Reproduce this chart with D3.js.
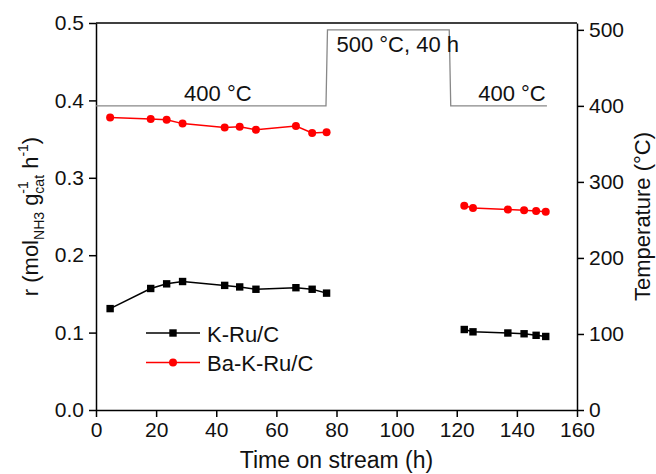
<!DOCTYPE html>
<meta charset="utf-8">
<script src="https://d3js.org/d3.v7.min.js"></script>
<style>
  body { margin: 0; background: #fff; }
  text { font-family: "Liberation Sans", Arial, sans-serif; fill: #111; }
</style>
<body>
<div id="chart"></div>
<script>
// data
var timeA = [4.7, 18.2, 23.5, 28.8, 42.8, 47.8, 53.2, 66.5, 71.9, 76.7];
var timeB = [122.5, 125.4, 137, 142.4, 146.4, 149.6];
var kRuA = [0.131, 0.157, 0.163, 0.166, 0.161, 0.159, 0.156, 0.158, 0.156, 0.151];
var kRuB = [0.104, 0.101, 0.0995, 0.0985, 0.0965, 0.095];
var baKRuA = [0.378, 0.376, 0.375, 0.370, 0.365, 0.366, 0.362, 0.367, 0.358, 0.359];
var baKRuB = [0.264, 0.261, 0.259, 0.258, 0.257, 0.256];
var tempTime = [0, 76.5, 77, 117.5, 118, 150];
var tempVal = [400, 400, 500, 500, 400, 400];
var xTicks = [0, 20, 40, 60, 80, 100, 120, 140, 160];
var yTicks = [0, 0.1, 0.2, 0.3, 0.4, 0.5];
var tTicks = [0, 100, 200, 300, 400, 500];

var W = 656, H = 474;
var margin = {top: 23, right: 79, bottom: 64, left: 96};
var width = W - margin.left - margin.right,
    height = H - margin.top - margin.bottom;

var svg = d3.select("#chart").append("svg")
  .attr("width", W).attr("height", H);
var g = svg.append("g")
  .attr("transform", "translate(" + margin.left + "," + margin.top + ")");

var x = d3.scaleLinear().domain([0, 160]).range([0, width]);
var y = d3.scaleLinear().domain([0, 0.5]).range([height, 0]);
var yT = d3.scaleLinear().domain([0, 509]).range([height, 0]);

// frame top
g.append("line").attr("x1", 0).attr("x2", width).attr("y1", 0).attr("y2", 0)
  .attr("stroke", "#000").attr("stroke-width", 1.5);

function styleAxis(sel) {
  sel.selectAll("path").attr("stroke", "#000").attr("stroke-width", 1.5);
  sel.selectAll("line").attr("stroke", "#000").attr("stroke-width", 1.5);
  sel.selectAll("text").attr("font-size", 21).attr("fill", "#111")
    .style("font-family", "'Liberation Sans', Arial, sans-serif");
}

g.append("g").attr("transform", "translate(0," + height + ")")
  .call(d3.axisBottom(x).tickValues(xTicks).tickSize(7).tickSizeOuter(0).tickPadding(5))
  .call(styleAxis);
g.append("g")
  .call(d3.axisLeft(y).tickValues(yTicks).tickSize(7).tickSizeOuter(0).tickPadding(5)
    .tickFormat(d3.format(".1f")))
  .call(styleAxis);
g.append("g").attr("transform", "translate(" + width + ",0)")
  .call(d3.axisRight(yT).tickValues(tTicks).tickSize(7).tickSizeOuter(0).tickPadding(5))
  .call(styleAxis);

// temperature profile
var tLine = d3.line().x(function(d) { return x(d[0]); }).y(function(d) { return yT(d[1]); });
g.append("path").datum(d3.zip(tempTime, tempVal))
  .attr("d", tLine).attr("fill", "none").attr("stroke", "#888").attr("stroke-width", 1.3);

g.append("text").attr("x", x(29.3)).attr("y", yT(400) - 5)
  .attr("font-size", 22).text("400 \u00b0C");
g.append("text").attr("x", x(80)).attr("y", yT(500) + 22)
  .attr("font-size", 22).text("500 \u00b0C, 40 h");
g.append("text").attr("x", x(149.6)).attr("y", yT(400) - 5).attr("text-anchor", "end")
  .attr("font-size", 22).text("400 \u00b0C");

var line = d3.line().x(function(d) { return x(d[0]); }).y(function(d) { return y(d[1]); });

var series = [
  {name: "K-Ru/C", color: "#000", shape: "square", parts: [d3.zip(timeA, kRuA), d3.zip(timeB, kRuB)]},
  {name: "Ba-K-Ru/C", color: "#f00", shape: "circle", parts: [d3.zip(timeA, baKRuA), d3.zip(timeB, baKRuB)]}
];

function marker(sel, shape, color) {
  if (shape == "square") {
    sel.append("rect").attr("x", -3.7).attr("y", -3.7).attr("width", 7.4).attr("height", 7.4)
      .attr("fill", color);
  } else {
    sel.append("circle").attr("r", 4).attr("fill", color);
  }
}

series.forEach(function(s) {
  s.parts.forEach(function(p) {
    g.append("path").datum(p).attr("d", line)
      .attr("fill", "none").attr("stroke", s.color).attr("stroke-width", 1.5);
    g.append("g").selectAll("g").data(p).enter().append("g")
      .attr("transform", function(d) { return "translate(" + x(d[0]) + "," + y(d[1]) + ")"; })
      .each(function() { marker(d3.select(this), s.shape, s.color); });
  });
});

// legend
var leg = g.append("g").attr("transform", "translate(" + (146 - margin.left) + "," + (333 - margin.top) + ")");
series.forEach(function(s, i) {
  var row = leg.append("g").attr("transform", "translate(0," + (i * 29.5) + ")");
  row.append("line").attr("x1", 0).attr("x2", 54).attr("stroke", s.color).attr("stroke-width", 1.5);
  marker(row.append("g").attr("transform", "translate(27,0)"), s.shape, s.color);
  row.append("text").attr("x", 61).attr("y", 8.5).attr("font-size", 22).text(s.name);
});

// axis titles
svg.append("text").attr("x", margin.left + width / 2).attr("y", 468)
  .attr("text-anchor", "middle").attr("font-size", 23).text("Time on stream (h)");

svg.append("text").attr("transform", "translate(" + 642 + "," + (margin.top + height / 2) + ") rotate(-90)")
  .attr("text-anchor", "middle").attr("dy", "0.35em").attr("font-size", 22).text("Temperature (\u00b0C)");

var yt = svg.append("text").attr("transform", "translate(38," + (margin.top + height / 2) + ") rotate(-90)")
  .attr("font-size", 22);
yt.append("tspan").text("r (mol");
yt.append("tspan").attr("font-size", 14).attr("dy", 6).text("NH3");
yt.append("tspan").attr("dy", -6).text(" g");
var sup1 = yt.append("tspan").attr("font-size", 14).attr("dy", -10).text("-1");
var sub1 = yt.append("tspan").attr("font-size", 14).attr("dy", 16).text("cat");
yt.append("tspan").attr("dy", -6).text(" h");
yt.append("tspan").attr("font-size", 14).attr("dy", -10).text("-1");
yt.append("tspan").attr("dy", 10).text(")");
sub1.attr("dx", -sup1.node().getComputedTextLength());
var bb = yt.node().getBBox();
yt.attr("x", -bb.width / 2);
</script>
</body>
